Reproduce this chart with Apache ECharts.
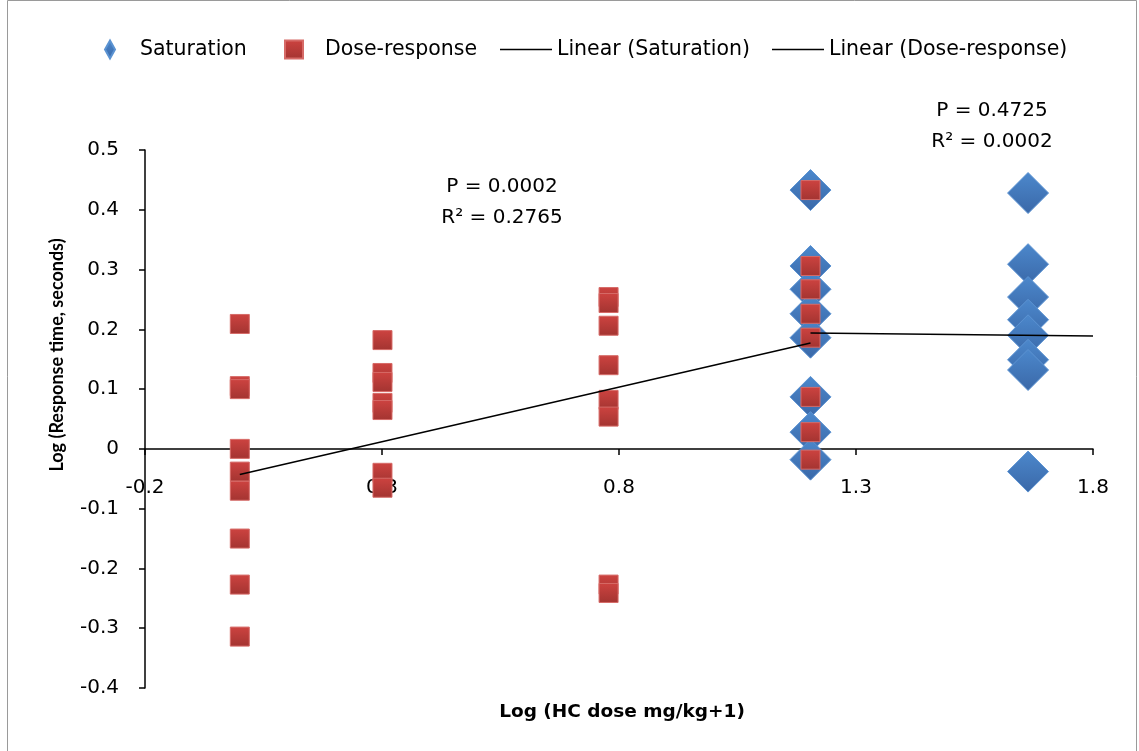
<!DOCTYPE html>
<html>
<head>
<meta charset="utf-8">
<script src="https://cdn.jsdelivr.net/npm/echarts@6/dist/echarts.min.js"></script>
<style>
  html, body { margin: 0; padding: 0; background: #fff; }
  #chart { width: 1139px; height: 751px; }
</style>
</head>
<body>
<div id="chart"></div>
<script>
// ---- Data ----
const xTickValues = [-0.2, 0.3, 0.8, 1.3, 1.8];
const yTickValues = [-0.4, -0.3, -0.2, -0.1, 0, 0.1, 0.2, 0.3, 0.4, 0.5];

// Saturation (log dose, log response)
const saturationX = [1.204, 1.204, 1.204, 1.204, 1.204, 1.204, 1.204, 1.204,
                     1.663, 1.663, 1.663, 1.663, 1.663, 1.663, 1.663, 1.663];
const saturationY = [0.433, 0.306, 0.267, 0.226, 0.186, 0.087, 0.028, -0.018,
                     0.428, 0.309, 0.254, 0.216, 0.190, 0.149, 0.132, -0.038];

// Dose-response
const doseX = [0, 0, 0, 0, 0, 0, 0, 0, 0,
               0.301, 0.301, 0.301, 0.301, 0.301, 0.301, 0.301,
               0.778, 0.778, 0.778, 0.778, 0.778, 0.778, 0.778, 0.778,
               1.204, 1.204, 1.204, 1.204, 1.204, 1.204, 1.204, 1.204];
const doseY = [0.209, 0.105, 0.100, 0.000, -0.038, -0.070, -0.150, -0.227, -0.314,
               0.182, 0.127, 0.112, 0.077, 0.065, -0.040, -0.065,
               0.254, 0.244, 0.206, 0.140, 0.082, 0.054, -0.227, -0.241,
               0.433, 0.306, 0.267, 0.226, 0.186, 0.087, 0.028, -0.018];

// Trend lines (endpoints)
const trendSatX = [1.204, 1.8];
const trendSatY = [0.194, 0.189];
const trendDoseX = [0, 1.204];
const trendDoseY = [-0.043, 0.177];

const seriesNames = ['Saturation', 'Dose-response', 'Linear (Saturation)', 'Linear (Dose-response)'];

const annotations = [
  { lines: ['P = 0.0002', 'R\u00B2 = 0.2765'], x: 502, y: 187 },
  { lines: ['P = 0.4725', 'R\u00B2 = 0.0002'], x: 992, y: 111 }
];

const zip = (xs, ys) => xs.map((x, i) => [x, ys[i]]);
const WIDE = '"DejaVu Sans", sans-serif';
const NARROW = '"Liberation Sans Narrow", Lato, sans-serif';

const GRID = { left: 145, right: 46, top: 150, bottom: 63 };
const plotH = 751 - GRID.top - GRID.bottom;
const yMin = yTickValues[0], yMax = yTickValues[yTickValues.length - 1];
// distance of the zero line from the bottom of the plot (for the x axis position)
const zeroOffset = plotH * (0 - yMin) / (yMax - yMin);

const chart = echarts.init(document.getElementById('chart'), null, { renderer: 'canvas' });

const blueGrad = { type: 'linear', x: 0, y: 0, x2: 0, y2: 1,
  colorStops: [{ offset: 0, color: '#4c88cc' }, { offset: 1, color: '#3a68a8' }] };
const redGrad = { type: 'linear', x: 0, y: 0, x2: 0, y2: 1,
  colorStops: [{ offset: 0, color: '#cd4340' }, { offset: 1, color: '#a33431' }] };

const fmt = v => {
  const r = Math.round(v * 10) / 10;
  return r === 0 ? '0' : r.toFixed(1);
};

const graphics = [
  { type: 'rect', shape: { x: 7.5, y: 0.5, width: 1129, height: 760 },
    style: { fill: 'none', stroke: '#9a9a9a', lineWidth: 1 }, silent: true, z: -1 },
  { type: 'text', x: 57, y: 355, rotation: Math.PI / 2,
    style: { text: 'Log (Response time, seconds)', font: 'bold 18px ' + NARROW,
             fill: '#000', textAlign: 'center', textVerticalAlign: 'middle' } },
  { type: 'text', x: 622, y: 712,
    style: { text: 'Log (HC dose mg/kg+1)', font: 'bold 18.5px ' + WIDE,
             fill: '#000', textAlign: 'center', textVerticalAlign: 'middle' } }
];
annotations.forEach(a => {
  a.lines.forEach((t, i) => {
    graphics.push({ type: 'text', x: a.x, y: a.y + i * 31,
      style: { text: t, font: '20px ' + WIDE, fill: '#000',
               textAlign: 'center', textVerticalAlign: 'middle' } });
  });
});

const legendText = (padLeft) => ({ fontSize: 20.5, color: '#000', fontFamily: WIDE, padding: [0, 0, 0, padLeft] });
const legendBase = { top: 34, padding: 5 };

const option = {
  backgroundColor: '#fff',
  animation: false,
  textStyle: { fontFamily: WIDE },
  legend: [
    Object.assign({}, legendBase, { left: 99, itemWidth: 10, itemHeight: 18, textStyle: legendText(20),
      data: [{ name: seriesNames[0], icon: 'diamond' }] }),
    Object.assign({}, legendBase, { left: 279, itemWidth: 18, itemHeight: 18, textStyle: legendText(17),
      data: [{ name: seriesNames[1], icon: 'rect' }] }),
    Object.assign({}, legendBase, { left: 495, itemWidth: 52, itemHeight: 18, textStyle: legendText(0),
      data: [{ name: seriesNames[2], icon: 'path://M0,0 H52 V1.5 H0 Z' }] }),
    Object.assign({}, legendBase, { left: 767, itemWidth: 52, itemHeight: 18, textStyle: legendText(0),
      data: [{ name: seriesNames[3], icon: 'path://M0,0 H52 V1.5 H0 Z' }] })
  ],
  grid: { left: GRID.left, right: GRID.right, top: GRID.top, bottom: GRID.bottom, containLabel: false },
  xAxis: {
    type: 'value', min: xTickValues[0], max: xTickValues[xTickValues.length - 1], interval: 0.5,
    position: 'bottom', offset: -zeroOffset,
    axisLine: { onZero: false, lineStyle: { color: '#000', width: 1.5 } },
    axisTick: { show: true, inside: false, length: 6, lineStyle: { color: '#000', width: 1.5 } },
    axisLabel: { color: '#000', fontSize: 20, margin: 29, formatter: fmt, fontFamily: WIDE },
    splitLine: { show: false }
  },
  yAxis: {
    type: 'value', min: yMin, max: yMax, interval: 0.1,
    axisLine: { show: true, onZero: false, lineStyle: { color: '#000', width: 1.5 } },
    axisTick: { show: true, inside: false, length: 6, lineStyle: { color: '#000', width: 1.5 } },
    axisLabel: { color: '#000', fontSize: 20, margin: 26, formatter: fmt, fontFamily: WIDE },
    splitLine: { show: false }
  },
  graphic: graphics,
  series: [
    {
      name: seriesNames[0], type: 'scatter', symbol: 'diamond', symbolSize: 41,
      data: zip(saturationX, saturationY),
      itemStyle: { color: blueGrad, borderColor: '#5b93d2', borderWidth: 1, opacity: 1 },
      z: 2
    },
    {
      name: seriesNames[1], type: 'scatter', symbol: 'rect', symbolSize: 19,
      data: zip(doseX, doseY),
      itemStyle: { color: redGrad, borderColor: '#d66a67', borderWidth: 1, opacity: 1 },
      z: 3
    },
    {
      name: seriesNames[2], type: 'line', symbol: 'none',
      data: zip(trendSatX, trendSatY),
      lineStyle: { color: '#000', width: 1.5 }, itemStyle: { color: '#000' }, z: 4
    },
    {
      name: seriesNames[3], type: 'line', symbol: 'none',
      data: zip(trendDoseX, trendDoseY),
      lineStyle: { color: '#000', width: 1.5 }, itemStyle: { color: '#000' }, z: 4
    }
  ]
};
chart.setOption(option);
</script>
</body>
</html>
